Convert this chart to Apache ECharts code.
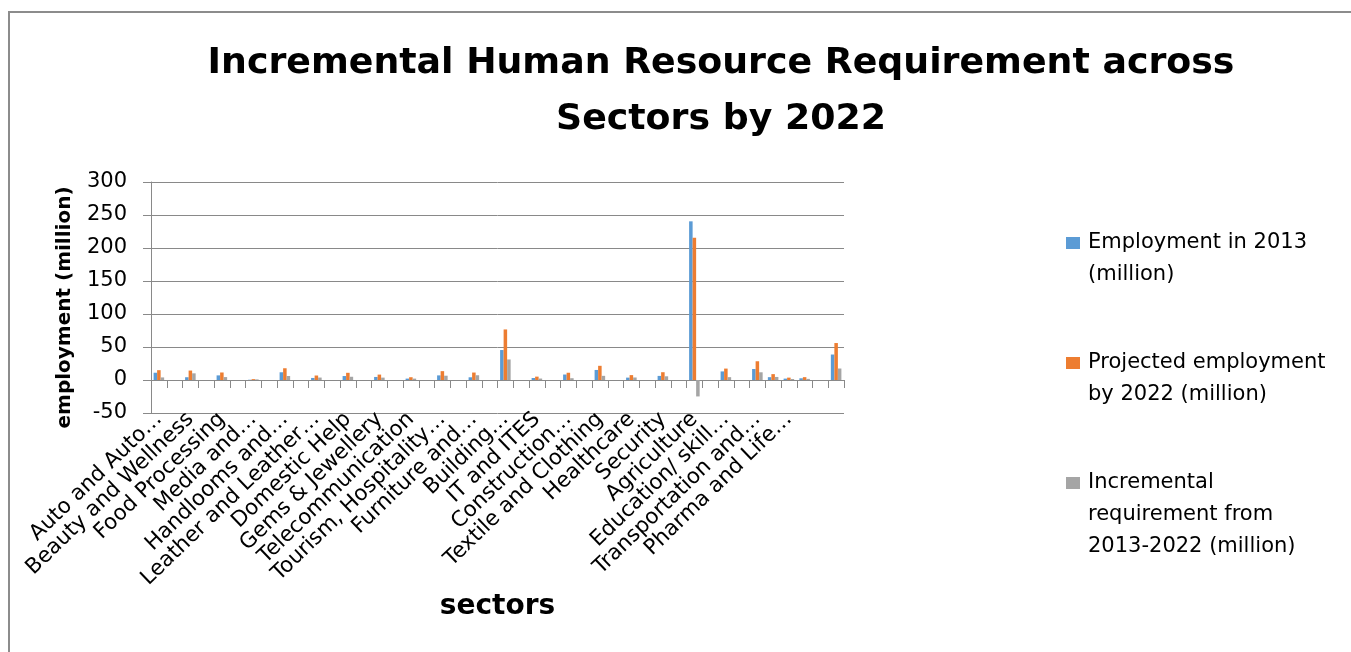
<!DOCTYPE html>
<html>
<head>
<meta charset="utf-8">
<script src="https://cdn.jsdelivr.net/npm/echarts@6/dist/echarts.min.js"></script>
<style>
html,body{margin:0;padding:0;background:#fff;}
#chart{width:1351px;height:652px;}
</style>
</head>
<body>
<div id="chart"></div>
<script>
// 44 category slots; blank rows have an empty name and no values
const categories = [
  "Auto and Auto…", "", "Beauty and Wellness", "", "Food Processing", "",
  "Media and…", "", "Handlooms and…", "", "Leather and Leather…", "",
  "Domestic Help", "", "Gems & Jewellery", "", "Telecommunication", "",
  "Tourism, Hospitality…", "", "Furniture and…", "", "Building…", "",
  "IT and ITES", "", "Construction…", "", "Textile and Clothing", "",
  "Healthcare", "", "Security", "", "Agriculture", "",
  "Education/ skill…", "", "Transportation and…", "Electronics and IT Hardware…",
  "Pharma and Life…", "BFSI", "", "Retail"
];
const employment2013 = [
  11, null, 4.2, null, 7, null, 0.4, null, 11.7, null, 3.1, null,
  6, null, 4.6, null, 2.1, null, 7, null, 4.1, null, 45.4, null,
  3, null, 8.3, null, 15.2, null, 3.6, null, 6.2, null, 240.4, null,
  13, null, 16.7, 4.3, 2.1, 2.6, null, 38.6
];
const projected2022 = [
  14.9, null, 14.3, null, 11.4, null, 1.3, null, 17.8, null, 6.8, null,
  10.9, null, 8.2, null, 4.2, null, 13.4, null, 11.3, null, 76.6, null,
  5.1, null, 11, null, 21.5, null, 7.4, null, 11.8, null, 215.5, null,
  17.3, null, 28.4, 8.9, 3.6, 4.3, null, 56
];
const incremental = [
  3.9, null, 10.1, null, 4.4, null, 0.9, null, 6.1, null, 3.7, null,
  4.9, null, 3.6, null, 2.1, null, 6.5, null, 7.2, null, 31.1, null,
  2.2, null, 2.7, null, 6.3, null, 3.8, null, 5.6, null, -24.9, null,
  4.3, null, 11.7, 4.6, 1.5, 1.7, null, 17.4
];
const seriesNames = [
  "Employment in 2013 (million)",
  "Projected employment by 2022 (million)",
  "Incremental requirement from 2013-2022 (million)"
];
const legendLabels = [
  "Employment in 2013\n(million)",
  "Projected employment\nby 2022 (million)",
  "Incremental\nrequirement from\n2013-2022 (million)"
];
const colors = ["#5B9BD5", "#ED7D31", "#A5A5A5"];

const FONT = "DejaVu Sans";
const gridColor = "#898989";

function makeLegend(i, top, lines) {
  const h = lines * 32;
  return {
    show: true,
    orient: "vertical",
    left: 1066,
    top: top,
    padding: 0,
    itemWidth: 14,
    itemHeight: h,
    data: [{ name: seriesNames[i], icon: "path://M0,0M0,10L14,10L14,22L0,22ZM14," + h }],
    formatter: function () { return legendLabels[i]; },
    textStyle: { fontFamily: FONT, fontSize: 21, color: "#000", lineHeight: 32, padding: [0, 0, 0, 3] }
  };
}

const chart = echarts.init(document.getElementById("chart"), null, { renderer: "canvas" });
chart.setOption({
  animation: false,
  color: colors,
  title: {
    text: "Incremental Human Resource Requirement across\nSectors by 2022",
    left: 721,
    top: 36,
    padding: 0,
    textAlign: "center",
    textStyle: { fontFamily: FONT, fontSize: 36.3, fontWeight: "bold", color: "#000", lineHeight: 56 }
  },
  legend: [
    makeLegend(0, 227, 2),
    makeLegend(1, 347, 2),
    makeLegend(2, 467, 3)
  ],
  grid: { left: 151, right: 507, top: 182, bottom: 239, containLabel: false },
  xAxis: {
    type: "category",
    data: categories,
    axisLine: { show: true, onZero: true, lineStyle: { color: gridColor, width: 1 } },
    axisTick: { show: true, interval: 0, length: 8, lineStyle: { color: gridColor } },
    axisLabel: { interval: 1, showMinLabel: true, hideOverlap: false, rotate: 44, margin: 3, fontFamily: FONT, fontSize: 21.4, color: "#000" },
    name: "sectors",
    nameLocation: "middle",
    nameGap: 176,
    nameTextStyle: { fontFamily: FONT, fontSize: 28, fontWeight: "bold", color: "#000" }
  },
  yAxis: {
    type: "value",
    min: -50,
    max: 300,
    interval: 50,
    axisLine: { show: true, lineStyle: { color: gridColor } },
    axisTick: { show: true, length: 8, lineStyle: { color: gridColor } },
    splitLine: { show: true, lineStyle: { color: gridColor, width: 1 } },
    axisLabel: { margin: 24, fontFamily: FONT, fontSize: 21, color: "#000" },
    name: "employment (million)",
    nameLocation: "middle",
    nameRotate: 90,
    nameGap: 76,
    nameTextStyle: { fontFamily: FONT, fontSize: 20, fontWeight: "bold", color: "#000", padding: [0, 20, 0, 0] }
  },
  series: [
    { name: seriesNames[0], type: "bar", data: employment2013, barGap: "0%", barCategoryGap: "33%", itemStyle: { color: colors[0] } },
    { name: seriesNames[1], type: "bar", data: projected2022, barGap: "0%", barCategoryGap: "33%", itemStyle: { color: colors[1] } },
    { name: seriesNames[2], type: "bar", data: incremental, barGap: "0%", barCategoryGap: "33%", itemStyle: { color: colors[2] } }
  ],
  graphic: [{
    type: "rect",
    silent: true,
    shape: { x: 9, y: 12, width: 1400, height: 700 },
    style: { fill: "none", stroke: "#8c8c8c", lineWidth: 2 }
  }]
});
</script>
</body>
</html>
